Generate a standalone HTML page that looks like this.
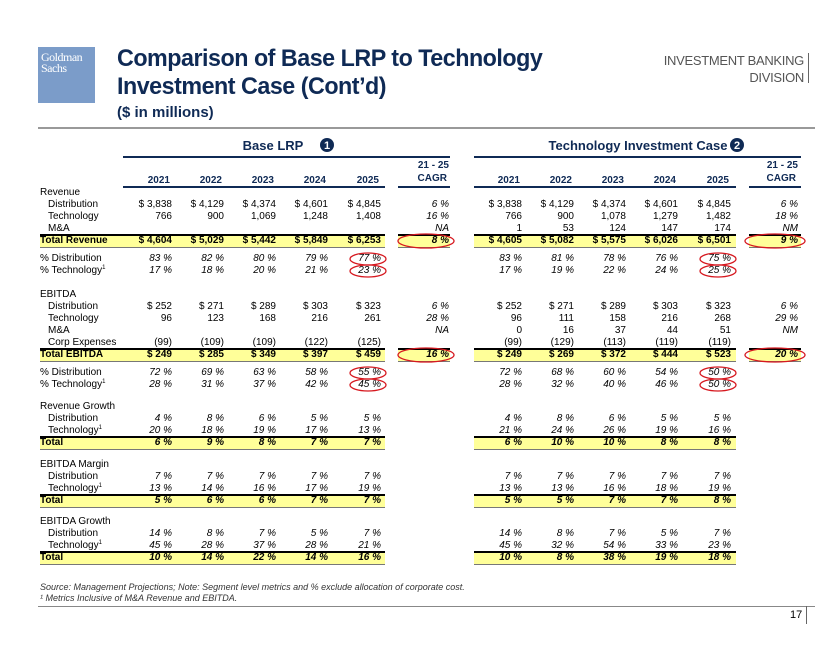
<!DOCTYPE html>
<html><head><meta charset="utf-8"><style>
body{margin:0;background:#fff;}
#page{position:relative;width:840px;height:649px;overflow:hidden;font-family:"Liberation Sans",Arial,sans-serif;color:#000;}
.a{position:absolute;white-space:nowrap;}
.t{font-size:10px;line-height:12px;}
.sp{position:relative;top:-4px;font-size:6px;}
</style></head><body>
<div id="page">
  <div class="a" style="left:38px;top:47px;width:57px;height:56px;background:#7b9cc9;"><div style="color:#fff;font-family:'Liberation Serif',serif;font-size:12px;line-height:11px;padding:5px 0 0 3px;letter-spacing:-0.5px;">Goldman<br>Sachs</div></div>
  <div class="a" style="left:117px;top:45px;font-size:24px;line-height:28px;font-weight:bold;color:#0f2a55;letter-spacing:-0.5px;transform:scaleX(0.97);transform-origin:left top;">Comparison of Base LRP to Technology<br>Investment Case (Cont’d)</div>
  <div class="a" style="left:117px;top:104px;font-size:15px;font-weight:bold;color:#0f2a55;">($ in millions)</div>
  <div class="a" style="left:620px;top:52px;width:184px;text-align:right;font-size:13px;line-height:17px;color:#555;letter-spacing:-0.3px;">INVESTMENT BANKING<br>DIVISION</div>
  <div class="a" style="left:808px;top:53px;width:1px;height:30px;background:#666;"></div>
  <div class="a" style="left:38px;top:127px;width:777px;height:2px;background:#999;"></div>
  <div class="a" style="left:38px;top:606px;width:777px;height:1px;background:#888;"></div>
  <div class="a" style="left:40px;top:582px;font-size:9px;font-style:italic;color:#333;">Source: Management Projections; Note: Segment level metrics and % exclude allocation of corporate cost.</div>
  <div class="a" style="left:40px;top:593px;font-size:9px;font-style:italic;color:#333;">¹ Metrics Inclusive of M&amp;A Revenue and EBITDA.</div>
  <div class="a" style="left:790px;top:609px;font-size:11px;">17</div>
  <div class="a" style="left:806px;top:606px;width:1px;height:18px;background:#666;"></div>
  <svg class="a" id="marks" style="left:0;top:0;" width="840" height="649"></svg>
</div>
<script>
const years=["2021","2022","2023","2024","2025"];
const rowLabels=["Revenue","Distribution","Technology","M&A","Total Revenue","% Distribution","% Technology¹","EBITDA","Distribution","Technology","M&A","Corp Expenses","Total EBITDA","% Distribution","% Technology¹","Revenue Growth","Distribution","Technology¹","Total","EBITDA Margin","Distribution","Technology¹","Total","EBITDA Growth","Distribution","Technology¹","Total"];
const rowY=[193,205,217,229,241,259,271,295,307,319,331,343,355,373,385,407,419,431,443,465,477,489,501,522,534,546,558];
const rowKind=["h","i","i","i","T","p","p","h","i","i","i","i","T","p","p","h","ip","ip","Tp","h","ip","ip","Tp","h","ip","ip","Tp"];
const baseVals=[null,["$ 3,838","$ 4,129","$ 4,374","$ 4,601","$ 4,845"],["766","900","1,069","1,248","1,408"],["","","","",""],["$ 4,604","$ 5,029","$ 5,442","$ 5,849","$ 6,253"],["83 %","82 %","80 %","79 %","77 %"],["17 %","18 %","20 %","21 %","23 %"],null,["$ 252","$ 271","$ 289","$ 303","$ 323"],["96","123","168","216","261"],["","","","",""],["(99)","(109)","(109)","(122)","(125)"],["$ 249","$ 285","$ 349","$ 397","$ 459"],["72 %","69 %","63 %","58 %","55 %"],["28 %","31 %","37 %","42 %","45 %"],null,["4 %","8 %","6 %","5 %","5 %"],["20 %","18 %","19 %","17 %","13 %"],["6 %","9 %","8 %","7 %","7 %"],null,["7 %","7 %","7 %","7 %","7 %"],["13 %","14 %","16 %","17 %","19 %"],["5 %","6 %","6 %","7 %","7 %"],null,["14 %","8 %","7 %","5 %","7 %"],["45 %","28 %","37 %","28 %","21 %"],["10 %","14 %","22 %","14 %","16 %"]];
const baseCagr=["","6 %","16 %","NA","8 %","","","","6 %","28 %","NA","","16 %","","","","","","","","","","","","","",""];
const techVals=[null,["$ 3,838","$ 4,129","$ 4,374","$ 4,601","$ 4,845"],["766","900","1,078","1,279","1,482"],["1","53","124","147","174"],["$ 4,605","$ 5,082","$ 5,575","$ 6,026","$ 6,501"],["83 %","81 %","78 %","76 %","75 %"],["17 %","19 %","22 %","24 %","25 %"],null,["$ 252","$ 271","$ 289","$ 303","$ 323"],["96","111","158","216","268"],["0","16","37","44","51"],["(99)","(129)","(113)","(119)","(119)"],["$ 249","$ 269","$ 372","$ 444","$ 523"],["72 %","68 %","60 %","54 %","50 %"],["28 %","32 %","40 %","46 %","50 %"],null,["4 %","8 %","6 %","5 %","5 %"],["21 %","24 %","26 %","19 %","16 %"],["6 %","10 %","10 %","8 %","8 %"],null,["7 %","7 %","7 %","7 %","7 %"],["13 %","13 %","16 %","18 %","19 %"],["5 %","5 %","7 %","7 %","8 %"],null,["14 %","8 %","7 %","5 %","7 %"],["45 %","32 %","54 %","33 %","23 %"],["10 %","8 %","38 %","19 %","18 %"]];
const techCagr=["","6 %","18 %","NM","9 %","","","","6 %","29 %","NM","","20 %","","","","","","","","","","","","","",""];
const circled=[[5,4],[6,4],[13,4],[14,4]];

const page=document.getElementById('page');
const svg=document.getElementById('marks');
const NS="http://www.w3.org/2000/svg";
const baseRight=[172,224,276,328,381], baseCagrRight=449;
const techRight=[522,574,626,678,731], techCagrRight=798;
const navy="#0f2a55";
function txt(name,text,x,y,opts){
  const d=document.createElement('div');
  d.className='a t';
  d.textContent=text;
  
  
  if(opts.right){d.style.left=(x-120)+'px';d.style.width='120px';d.style.textAlign='right';}
  else if(opts.center){d.style.left=(x-100)+'px';d.style.width='200px';d.style.textAlign='center';}
  else d.style.left=x+'px';
  d.style.top=(y-6)+'px';
  if(opts.bold)d.style.fontWeight='bold';
  if(opts.italic)d.style.fontStyle='italic';
  if(opts.color)d.style.color=opts.color;
  if(opts.size){d.style.fontSize=opts.size+'px';d.style.lineHeight=(opts.size+4)+'px';d.style.top=(y-(opts.size+4)/2)+'px';}
  page.insertBefore(d,svg);
  return d;
}
function box(name,x,y,w,h,bg,border){
  const d=document.createElement('div');
  d.className='a';
  
  
  d.style.left=x+'px';d.style.top=y+'px';d.style.width=w+'px';d.style.height=h+'px';
  d.style.background=bg;
  if(border){d.style.borderTop='2px solid #000';d.style.borderBottom='1px solid #777';}
  page.insertBefore(d,svg);
}
function badge(name,cx,cy,n){
  const c=document.createElementNS(NS,'circle');
  c.setAttribute('cx',cx);c.setAttribute('cy',cy);c.setAttribute('r',7);c.setAttribute('fill',navy);
  
  
  svg.appendChild(c);
  const t=document.createElementNS(NS,'text');
  t.setAttribute('x',cx);t.setAttribute('y',cy+4);t.setAttribute('text-anchor','middle');
  t.setAttribute('fill','#fff');t.setAttribute('font-size','11');t.setAttribute('font-weight','bold');t.setAttribute('font-family','Liberation Sans, sans-serif');
  t.textContent=n;
  
  
  svg.appendChild(t);
}
txt('base-lrp-header','Base LRP',273,145,{center:true,bold:true,color:navy,size:13});
badge('base-lrp-badge',327,145,'1');
txt('tech-case-header','Technology Investment Case',638,145,{center:true,bold:true,color:navy,size:13});
badge('tech-case-badge',737,145,'2');
box('base-top-rule',123,156,327,2,navy);
box('tech-top-rule',474,156,327,2,navy);
box('base-years-rule',123,186,262,2,navy);
box('base-cagr-rule',398,186,52,2,navy);
box('tech-years-rule',474,186,262,2,navy);
box('tech-cagr-rule',749,186,52,2,navy);
years.forEach((y,i)=>{
  txt('base-year-'+y,y,baseRight[i]-2,181,{right:true,bold:true,color:navy});
  txt('tech-year-'+y,y,techRight[i]-2,181,{right:true,bold:true,color:navy});
});
txt('base-cagr-header-1','21 - 25',baseCagrRight,166,{right:true,bold:true,color:navy});
txt('base-cagr-header-2','CAGR',baseCagrRight-2,179,{right:true,bold:true,color:navy});
txt('tech-cagr-header-1','21 - 25',techCagrRight,166,{right:true,bold:true,color:navy});
txt('tech-cagr-header-2','CAGR',techCagrRight-2,179,{right:true,bold:true,color:navy});

rowLabels.forEach((lab,r)=>{
  const k=rowKind[r], y=rowY[r];
  const total=k[0]==='T', pct=k.indexOf('p')>=0, indent=k[0]==='i';
  if(total){
    box('base-total-band-'+r,40,y-7,345,11,'#ffff99',true);
    box('tech-total-band-'+r,474,y-7,262,11,'#ffff99',true);
    if(baseCagr[r]){box('base-cagr-band-'+r,398,y-7,52,11,'#ffff99',true);}
    if(techCagr[r]){box('tech-cagr-band-'+r,749,y-7,52,11,'#ffff99',true);}
  }
  const sup=lab.endsWith('¹');
  const d=txt('row-label-'+r,sup?lab.slice(0,-1):lab,indent?48:40,y,{bold:total});
  if(sup){const s=document.createElement('span');s.className='sp';s.textContent='1';d.appendChild(s);}
  if(baseVals[r]){
    baseVals[r].forEach((v,i)=>{if(v)txt('base-value-'+r+'-'+i,v,baseRight[i],y,{right:true,bold:total,italic:pct});});
    techVals[r].forEach((v,i)=>{if(v)txt('tech-value-'+r+'-'+i,v,techRight[i],y,{right:true,bold:total,italic:pct});});
  }
  if(baseCagr[r])txt('base-cagr-'+r,baseCagr[r],baseCagrRight,y,{right:true,italic:true,bold:total});
  if(techCagr[r])txt('tech-cagr-'+r,techCagr[r],techCagrRight,y,{right:true,italic:true,bold:total});
});
function ellipse(name,cx,cy,rx,ry){
  const e=document.createElementNS(NS,'ellipse');
  e.setAttribute('cx',cx);e.setAttribute('cy',cy);e.setAttribute('rx',rx);e.setAttribute('ry',ry);
  e.setAttribute('fill','none');e.setAttribute('stroke','#d6181f');e.setAttribute('stroke-width','1.3');
  
  
  svg.appendChild(e);
}
circled.forEach(([r,i])=>{
  ellipse('base-circle-'+r,baseRight[i]-13,rowY[r],18,6);
  ellipse('tech-circle-'+r,techRight[i]-13,rowY[r],18,6);
});
[4,12].forEach(r=>{
  ellipse('base-cagr-circle-'+r,baseCagrRight-23,rowY[r],28,7);
  ellipse('tech-cagr-circle-'+r,techCagrRight-23,rowY[r],30,7);
});
</script>
</body></html>
